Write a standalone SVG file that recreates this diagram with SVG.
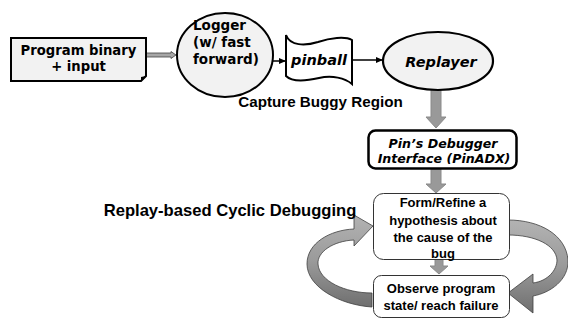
<svg xmlns="http://www.w3.org/2000/svg" width="568" height="320" viewBox="0 0 568 320">
<style>
.v{font-family:"DejaVu Sans",Verdana,sans-serif;font-weight:bold;fill:#000}
.vi{font-family:"DejaVu Sans",Verdana,sans-serif;font-weight:bold;font-style:italic;fill:#000}
.c{font-family:"Liberation Sans",Arial,sans-serif;font-weight:bold;fill:#000}
.garrow{fill:#999;stroke:#8a8a8a;stroke-width:1}
.curve{fill:url(#cg);stroke:#404040;stroke-width:0.8}
</style>
<defs>
<marker id="ah" markerWidth="8" markerHeight="8" refX="7" refY="4" orient="auto" markerUnits="userSpaceOnUse">
<path d="M0,1 L7,4 L0,7 Z" fill="#000"/>
</marker>
<linearGradient id="cg" x1="0" y1="0" x2="0" y2="1">
<stop offset="0" stop-color="#b3b3b3"/>
<stop offset="0.5" stop-color="#9a9a9a"/>
<stop offset="1" stop-color="#6f6f6f"/>
</linearGradient>
</defs>
<rect width="568" height="320" fill="#fff"/>

<g id="connectors">
<path d="M146,53 H171 V51.5 L176,55 L171,58.5 V57 H146 Z" fill="#a6a6a6" stroke="#404040" stroke-width="0.8"/>
<line x1="273" y1="61" x2="286" y2="61" stroke="#000" stroke-width="1.5" marker-end="url(#ah)"/>
<line x1="352" y1="60" x2="383" y2="60" stroke="#000" stroke-width="1.5" marker-end="url(#ah)"/>
<path class="garrow" d="M431,90 H441 V117 H446 L436,128 L426,117 H431 Z"/>
<path class="garrow" d="M431,169 H441 V184 H446 L436,193 L426,184 H431 Z"/>
<path class="garrow" d="M435,259 H443 V266 H448 L439,274 L430,266 H435 Z"/>
<path class="curve" d="M372,307 C340,305 307,287 307,264 C307,243 330,230 354,229 L354,215 L373,226 L354,246 L354,240 C333,241 317,252 318,264 C319,281 345,293 372,293 Z"/>
<path class="curve" d="M508,220 C540,220 566,235 568,260 C569,280 550,293 533,296 L533,313 L508,293 L533,274 L533,283 C548,281 557,270 557,260 C556,245 535,235 508,235 Z"/>
</g>

<g id="program">
<path d="M11,38 H146 V76 L141,81 H11 Z" fill="#f2f2f2" stroke="#000" stroke-width="2"/>
<path d="M146,76 L141,81 L141,77 Z" fill="#000"/>
<text class="v" font-size="13.2" x="78.5" y="54.5" text-anchor="middle">Program binary</text>
<text class="v" font-size="13.2" x="78.5" y="70.5" text-anchor="middle">+ input</text>
</g>

<g id="logger">
<ellipse cx="225" cy="55" rx="48" ry="42" fill="#f2f2f2" stroke="#000" stroke-width="2"/>
<text class="v" font-size="13.5" x="193" y="30">Logger</text>
<text class="v" font-size="13.5" x="193" y="47">(w/ fast</text>
<text class="v" font-size="13.5" x="193" y="64">forward)</text>
</g>

<g id="pinball">
<path d="M286,35 C290,46 305,46 318,42 C330,38 345,36 352,40 L352,84 C345,78 332,75 319,78 C306,81 292,82 286,76 Z" fill="#fff" stroke="#000" stroke-width="2"/>
<text class="vi" font-size="14.5" x="319" y="65" text-anchor="middle">pinball</text>
</g>

<g id="replayer">
<ellipse cx="438" cy="61" rx="55" ry="29" fill="#f2f2f2" stroke="#000" stroke-width="2.2"/>
<text class="vi" font-size="14.5" x="441" y="67" text-anchor="middle">Replayer</text>
</g>

<g id="capture-label">
<text class="c" font-size="15.2" x="320.5" y="107" text-anchor="middle">Capture Buggy Region</text>
</g>

<g id="pinadx">
<rect x="368.5" y="130.5" width="148" height="38" rx="7" fill="#fff" stroke="#000" stroke-width="2.5"/>
<text class="vi" font-size="12.6" x="443" y="148" text-anchor="middle">Pin’s Debugger</text>
<text class="vi" font-size="12.6" x="444" y="163" text-anchor="middle">Interface (PinADX)</text>
</g>

<g id="cyclic-label">
<text class="c" font-size="16.6" x="230" y="216" text-anchor="middle">Replay-based Cyclic Debugging</text>
</g>

<g id="hypothesis">
<rect x="373.5" y="193.5" width="136" height="66" rx="10" fill="#fff" stroke="#333" stroke-width="1"/>
<text class="c" font-size="13" x="443" y="207" text-anchor="middle">Form/Refine a</text>
<text class="c" font-size="13" x="443" y="225" text-anchor="middle">hypothesis about</text>
<text class="c" font-size="13" x="443" y="242" text-anchor="middle">the cause of the</text>
<text class="c" font-size="13" x="443" y="258" text-anchor="middle">bug</text>
</g>

<g id="observe">
<rect x="373.5" y="275.5" width="136" height="42" rx="8" fill="#fff" stroke="#333" stroke-width="1"/>
<text class="c" font-size="13" x="441" y="293" text-anchor="middle">Observe program</text>
<text class="c" font-size="13" x="441" y="310" text-anchor="middle">state/ reach failure</text>
</g>
</svg>
